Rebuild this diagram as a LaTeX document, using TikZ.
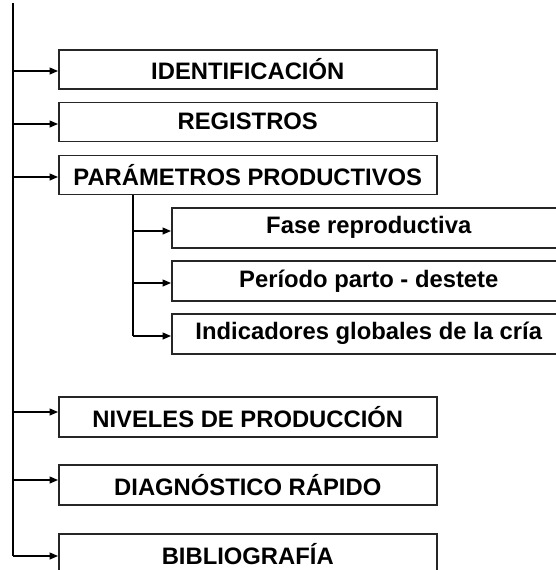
\documentclass[tikz,border=0pt]{standalone}
\usepackage{fontspec}
\setmainfont{Liberation Sans}
\usetikzlibrary{arrows.meta}
\begin{document}
\begin{tikzpicture}[x=1pt,y=-1pt,
  box/.style={draw=black!85,line width=1.5pt,rectangle,anchor=north west,inner sep=0pt,
    font=\bfseries\fontsize{23.8}{28}\selectfont,text=black},
  mainbox/.style={box,minimum width=378pt,minimum height=39pt},
  subbox/.style={box,minimum width=394pt,minimum height=40pt},
  conn/.style={line width=1.3pt,black},
  arr/.style={conn,-{Triangle[length=8.5pt,width=7pt]}}]
\useasboundingbox (0,0) rectangle (556,570);
\clip (0,0) rectangle (556,570);
\fill[white] (0,0) rectangle (556,570);
% main boxes
\node[mainbox] (id) at (58,49) {IDENTIFICACIÓN};
\node[mainbox] (reg) at (58,101.5) {REGISTROS};
\node[mainbox] (par) at (58,154.5) {PARÁMETROS PRODUCTIVOS};
\node[mainbox,minimum height=40pt] (niv) at (58,396) {NIVELES DE PRODUCCIÓN};
\node[mainbox,minimum height=40pt] (dia) at (58,464) {DIAGNÓSTICO RÁPIDO};
\node[mainbox,minimum height=40pt] (bib) at (58,533) {BIBLIOGRAFÍA};
% sub boxes
\node[subbox] (fase) at (171,207) {Fase reproductiva};
\node[subbox] (peri) at (171,260) {Período parto - destete};
\node[subbox] (indi) at (171,313) {Indicadores globales de la cría};
% main trunk
\coordinate (top) at (13,3);
\coordinate (a1) at (13,71);
\coordinate (a2) at (13,124);
\coordinate (a3) at (13,177);
\coordinate (a4) at (13,412);
\coordinate (a5) at (13,480);
\coordinate (a6) at (13,556);
\draw[conn] (top) -- (a6);
\draw[arr] (a1) -- (a1 -| id.west);
\draw[arr] (a2) -- (a2 -| reg.west);
\draw[arr] (a3) -- (a3 -| par.west);
\draw[arr] (a4) -- (a4 -| niv.west);
\draw[arr] (a5) -- (a5 -| dia.west);
\draw[arr] (a6) -- (a6 -| bib.west);
% sub trunk
\coordinate (s0) at (133,194);
\coordinate (s1) at (133,231);
\coordinate (s2) at (133,283);
\coordinate (s3) at (133,336);
\draw[conn] (s0 |- par.south) -- (s3);
\draw[arr] (s1) -- (s1 -| fase.west);
\draw[arr] (s2) -- (s2 -| peri.west);
\draw[arr] (s3) -- (s3 -| indi.west);
\end{tikzpicture}
\end{document}
